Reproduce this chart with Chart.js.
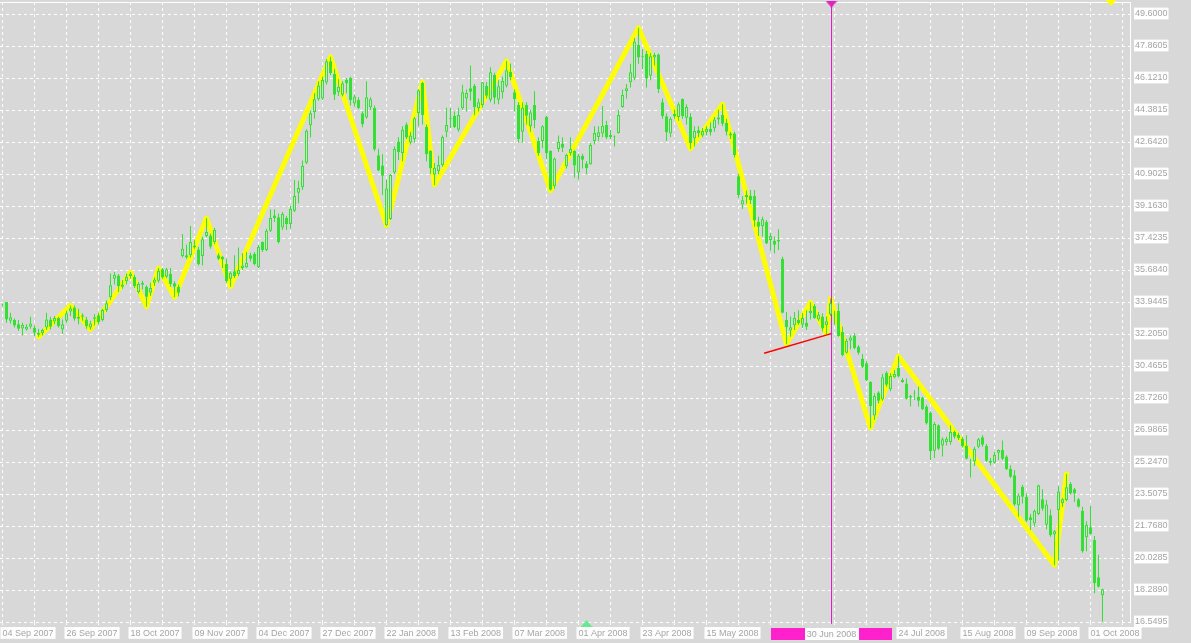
<!DOCTYPE html>
<html>
<head>
<meta charset="utf-8">
<title>Daily candles</title>
<script src="https://cdn.jsdelivr.net/npm/chart.js@4.4.1/dist/chart.umd.min.js"></script>
<style>
    html, body { margin: 0; padding: 0; background: #d8d8d8; }
    canvas { display: block; }
</style>
</head>
<body>
<canvas id="priceChart" width="1191" height="643"></canvas>
<script>
// one value per daily bar, 04 Sep 2007 -> early Oct 2008
const openPrices = [
    33.78, 33.94, 32.93, 32.96, 32.74, 32.51, 32.45, 32.60, 32.53, 32.27,
    32.24, 32.56, 33.00, 32.89, 33.07, 32.45, 32.93, 33.43, 33.65, 33.14,
    33.14, 33.00, 32.56, 33.04, 33.22, 32.96, 33.51, 34.20, 35.21, 35.39,
    34.88, 35.07, 35.36, 35.32, 34.49, 34.99, 34.78, 34.45, 34.99, 35.10,
    35.72, 35.32, 35.46, 34.96, 34.78, 36.44, 36.48, 36.48, 36.91, 36.80,
    36.44, 37.53, 37.56, 37.20, 36.48, 36.40, 36.01, 35.21, 35.61, 35.46,
    35.79, 35.83, 36.48, 36.55, 35.83, 37.20, 36.77, 37.82, 38.65, 38.55,
    38.00, 38.51, 38.18, 38.91, 39.89, 40.18, 41.52, 43.55, 44.27, 44.96,
    45.00, 45.87, 47.03, 46.34, 45.36, 45.21, 46.01, 46.12, 44.74, 44.92,
    44.20, 43.98, 44.53, 44.49, 41.92, 41.36, 38.12, 38.46, 40.99, 42.66,
    42.05, 43.60, 42.62, 42.80, 44.22, 45.85, 43.46, 42.15, 40.88, 41.07,
    41.39, 43.20, 43.90, 44.07, 43.31, 44.47, 45.00, 45.56, 45.70, 44.47,
    44.65, 45.70, 44.94, 46.28, 44.94, 45.34, 45.70, 46.46, 45.34, 44.65,
    43.20, 44.65, 43.50, 44.65, 42.70, 42.70, 44.00, 42.15, 40.23, 42.26,
    42.55, 41.32, 42.04, 42.15, 40.99, 41.90, 41.47, 41.43, 42.70, 42.91,
    43.10, 43.57, 42.91, 42.90, 43.13, 44.54, 45.42, 45.89, 46.14, 47.91,
    47.28, 47.44, 46.25, 47.23, 47.40, 44.80, 44.04, 43.10, 44.18, 44.00,
    44.98, 43.96, 44.00, 42.84, 43.28, 42.99, 43.17, 43.35, 43.39, 43.97,
    44.11, 43.68, 42.99, 43.10, 40.78, 39.25, 39.76, 39.72, 39.70, 38.29,
    38.08, 38.29, 37.32, 37.28, 37.31, 36.30, 32.97, 32.39, 32.68, 32.97,
    32.71, 32.82, 33.33, 33.73, 33.00, 33.15, 32.68, 33.26, 33.28, 33.47,
    32.31, 31.19, 31.84, 32.13, 31.52, 30.86, 30.61, 29.60, 27.78, 29.02,
    28.65, 30.10, 29.20, 29.85, 30.36, 29.70, 29.52, 28.76, 28.96, 28.80,
    28.76, 28.26, 27.93, 25.86, 27.24, 26.15, 26.33, 26.33, 26.88, 26.73,
    26.51, 26.15, 25.30, 25.28, 26.08, 26.59, 26.12, 25.32, 25.21, 25.75,
    25.90, 25.54, 24.88, 24.52, 22.89, 23.90, 23.36, 22.24, 21.91, 22.42,
    23.22, 21.84, 22.35, 21.30, 22.64, 23.00, 23.18, 24.05, 23.76, 23.22,
    22.60, 21.15, 21.70, 21.01, 18.98, 18.00
];
const highPrices = [
    33.86, 33.94, 33.36, 33.05, 32.96, 32.82, 32.74, 33.14, 32.67, 32.49,
    32.49, 33.36, 33.14, 33.18, 33.14, 33.00, 33.47, 33.76, 33.76, 33.58,
    33.33, 33.14, 32.93, 33.29, 33.36, 33.58, 34.02, 35.50, 35.57, 35.46,
    35.14, 35.50, 35.57, 35.43, 35.03, 35.10, 34.85, 34.99, 35.28, 35.79,
    35.79, 35.79, 35.79, 35.07, 34.88, 37.64, 37.05, 38.07, 37.31, 36.95,
    37.49, 38.51, 37.67, 37.97, 36.59, 36.44, 36.30, 35.61, 36.48, 36.91,
    36.59, 36.66, 36.62, 36.66, 37.05, 37.24, 37.93, 38.98, 38.98, 38.76,
    38.84, 38.62, 39.16, 40.58, 40.54, 41.63, 43.33, 44.34, 45.29, 45.94,
    46.19, 47.14, 47.28, 46.63, 46.05, 45.94, 46.12, 46.19, 45.22, 45.07,
    44.31, 45.94, 45.07, 44.63, 42.28, 41.97, 40.59, 40.90, 42.40, 42.90,
    43.50, 43.70, 43.20, 44.00, 45.50, 45.90, 43.60, 42.20, 41.50, 41.90,
    43.00, 44.50, 44.50, 44.30, 44.50, 45.75, 45.50, 46.80, 45.80, 45.00,
    45.90, 45.90, 46.70, 46.40, 46.00, 46.20, 47.05, 46.90, 45.50, 44.80,
    44.80, 44.80, 44.40, 45.40, 42.90, 43.55, 44.05, 42.20, 41.80, 43.00,
    42.90, 42.00, 42.90, 42.20, 42.00, 42.00, 41.60, 42.60, 43.50, 43.50,
    44.60, 43.80, 43.30, 43.00, 44.40, 45.50, 45.80, 46.90, 48.30, 48.85,
    47.70, 47.60, 47.50, 47.50, 47.45, 45.00, 44.20, 44.00, 44.40, 44.80,
    45.00, 44.70, 44.20, 43.50, 43.50, 43.40, 43.50, 43.70, 44.00, 44.40,
    44.70, 43.90, 43.20, 43.20, 40.90, 39.70, 40.00, 40.03, 40.03, 38.58,
    38.58, 38.40, 37.71, 37.50, 37.90, 36.40, 33.40, 33.15, 33.40, 33.50,
    33.33, 33.50, 33.93, 33.84, 33.40, 33.33, 33.15, 34.13, 33.47, 33.87,
    32.60, 31.95, 32.13, 32.24, 31.59, 31.12, 30.72, 29.63, 28.98, 29.09,
    30.03, 30.18, 30.07, 30.25, 31.00, 29.81, 29.78, 28.90, 29.16, 29.34,
    28.80, 28.36, 28.00, 27.42, 27.28, 26.59, 26.62, 27.24, 26.95, 26.84,
    26.62, 26.70, 25.43, 26.08, 26.55, 26.70, 26.22, 25.46, 25.79, 25.93,
    26.41, 25.61, 25.06, 24.81, 23.54, 24.01, 23.54, 22.42, 22.67, 24.01,
    23.76, 23.18, 22.67, 21.55, 23.94, 23.29, 24.59, 24.16, 23.83, 23.29,
    22.82, 22.02, 22.86, 21.23, 20.21, 18.36
];
const lowPrices = [
    33.72, 32.82, 32.78, 32.56, 32.38, 32.13, 32.38, 32.49, 32.09, 32.05,
    32.13, 32.42, 32.45, 32.74, 32.56, 32.20, 32.82, 33.18, 32.93, 32.74,
    32.93, 32.49, 32.45, 32.67, 32.74, 32.89, 33.40, 34.05, 34.89, 34.49,
    34.67, 34.89, 35.21, 34.70, 34.41, 34.63, 33.69, 34.27, 34.81, 34.99,
    35.21, 35.24, 34.78, 34.20, 34.25, 36.37, 36.30, 36.37, 36.84, 35.93,
    35.93, 37.46, 36.84, 37.09, 36.23, 35.79, 34.99, 34.78, 35.25, 35.36,
    35.68, 35.79, 36.15, 35.93, 35.79, 36.66, 36.70, 37.75, 38.29, 37.13,
    37.86, 37.86, 37.93, 38.84, 39.31, 40.03, 41.45, 42.89, 43.91, 44.89,
    44.92, 45.76, 46.27, 44.92, 45.14, 45.11, 45.29, 44.63, 44.56, 44.42,
    43.44, 43.91, 44.38, 42.14, 41.05, 39.76, 38.09, 38.40, 40.90, 41.66,
    41.60, 42.80, 42.50, 42.60, 43.50, 43.60, 41.60, 40.90, 40.30, 40.90,
    41.30, 42.90, 43.40, 43.40, 43.20, 44.40, 44.30, 44.90, 44.10, 44.30,
    44.50, 45.00, 44.80, 44.70, 44.70, 45.00, 45.60, 46.00, 44.30, 42.60,
    42.60, 43.60, 43.20, 43.40, 41.90, 42.30, 41.70, 40.00, 40.10, 42.10,
    42.10, 41.20, 41.90, 40.70, 40.60, 41.20, 40.90, 41.40, 42.50, 42.70,
    42.90, 42.80, 42.80, 42.40, 43.10, 44.50, 45.00, 45.60, 46.00, 46.90,
    46.60, 45.60, 46.00, 46.80, 45.30, 43.90, 42.70, 42.90, 43.90, 43.80,
    43.90, 43.60, 42.28, 42.40, 42.90, 42.90, 43.00, 43.00, 43.20, 43.60,
    43.50, 43.00, 42.80, 41.80, 39.60, 39.00, 39.30, 39.27, 38.04, 37.53,
    37.50, 37.10, 36.73, 36.59, 36.77, 33.33, 31.65, 32.06, 32.42, 32.71,
    32.53, 32.42, 33.00, 33.04, 32.93, 32.35, 32.20, 33.18, 32.71, 32.06,
    31.00, 31.15, 31.37, 31.37, 31.08, 30.36, 29.63, 27.10, 27.53, 28.44,
    28.58, 29.34, 29.09, 29.78, 29.85, 29.55, 28.65, 28.26, 28.62, 28.26,
    28.07, 27.28, 25.35, 25.46, 25.90, 25.54, 26.15, 26.19, 26.51, 26.44,
    26.04, 25.39, 24.41, 25.03, 26.00, 26.08, 25.25, 25.06, 25.17, 25.35,
    25.35, 24.81, 24.38, 22.86, 22.27, 22.99, 21.98, 21.55, 21.73, 22.35,
    22.60, 21.59, 21.19, 19.63, 19.88, 22.82, 23.11, 23.47, 23.07, 22.78,
    20.32, 20.39, 21.30, 18.11, 18.43, 16.58
];
const closePrices = [
    33.80, 33.00, 33.11, 32.67, 32.49, 32.69, 32.60, 32.78, 32.27, 32.16,
    32.42, 33.00, 32.60, 33.07, 32.63, 32.74, 33.33, 33.61, 33.04, 33.04,
    33.22, 32.63, 32.78, 33.11, 32.85, 33.51, 33.87, 34.85, 35.43, 34.81,
    34.78, 35.32, 35.50, 34.81, 34.92, 34.88, 34.23, 34.70, 35.17, 35.64,
    35.28, 35.72, 34.92, 34.78, 34.45, 36.84, 36.37, 37.20, 37.02, 36.00,
    37.35, 37.75, 36.95, 37.86, 36.30, 36.26, 35.07, 35.54, 35.36, 35.68,
    35.93, 36.08, 36.30, 36.01, 36.95, 36.77, 37.82, 38.51, 38.51, 37.20,
    38.73, 38.18, 39.02, 39.71, 40.14, 41.34, 43.26, 44.20, 44.96, 45.72,
    46.01, 47.03, 46.38, 45.21, 45.65, 45.83, 45.83, 44.92, 45.11, 44.49,
    43.62, 45.07, 44.96, 42.24, 41.09, 40.81, 40.12, 40.85, 42.26, 42.08,
    43.31, 42.88, 42.99, 43.93, 45.45, 44.11, 41.97, 41.21, 41.24, 41.39,
    42.91, 43.56, 43.95, 43.46, 44.11, 45.34, 45.30, 45.38, 44.55, 44.80,
    45.89, 45.16, 46.43, 45.05, 45.67, 45.96, 46.54, 46.17, 44.98, 42.80,
    44.50, 44.07, 44.25, 43.82, 42.04, 43.50, 42.04, 40.05, 41.75, 42.66,
    42.33, 41.94, 42.26, 41.36, 41.90, 41.68, 41.21, 42.48, 43.13, 43.17,
    43.53, 42.88, 43.02, 42.94, 44.11, 45.20, 45.56, 46.43, 48.10, 47.23,
    47.32, 46.10, 47.30, 47.37, 45.52, 44.04, 43.17, 43.90, 44.04, 44.69,
    44.04, 44.55, 42.59, 43.24, 43.13, 43.24, 43.35, 43.17, 43.86, 43.86,
    43.64, 43.20, 43.10, 41.94, 39.76, 39.47, 39.65, 39.47, 38.37, 38.04,
    38.44, 37.13, 37.53, 37.06, 37.24, 33.36, 32.57, 32.57, 33.08, 32.79,
    33.08, 32.60, 33.47, 33.08, 33.26, 32.50, 32.90, 33.87, 33.30, 32.10,
    31.05, 31.84, 32.02, 31.44, 31.19, 30.43, 29.70, 28.29, 28.83, 28.58,
    29.85, 29.45, 29.92, 30.03, 29.89, 29.58, 28.69, 28.83, 28.98, 28.58,
    28.11, 27.35, 25.83, 27.31, 25.97, 26.48, 26.51, 26.88, 26.62, 26.55,
    26.12, 25.43, 25.32, 25.97, 26.48, 26.19, 25.32, 25.21, 25.64, 25.90,
    25.43, 24.85, 24.45, 22.93, 23.43, 23.36, 22.06, 22.09, 22.60, 23.98,
    22.71, 22.93, 21.26, 21.48, 23.65, 23.22, 23.87, 23.54, 23.54, 22.82,
    20.39, 21.84, 21.33, 18.65, 18.47, 18.33
];

// zigzag swing points (bar index, price)
const zigzagBars = [9, 17, 22, 32, 36, 39, 43, 51, 57, 82, 96, 105, 108, 126, 137, 159, 172, 180, 196, 202, 206, 207, 217, 224, 263, 266];
const zigzagPrices = [32.05, 33.76, 32.45, 35.57, 33.69, 35.79, 34.20, 38.51, 34.78, 47.28, 38.09, 45.90, 40.30, 47.05, 40.00, 48.85, 42.28, 44.70, 31.65, 33.93, 32.20, 34.13, 27.10, 31.00, 19.63, 24.59];

// red trend line
const trendBars = [190.4, 207.4];
const trendPrices = [31.16, 32.24];

// vertical line object
const vlineBar = 207.25;
const vlineDate = '30 Jun 2008';

// arrow markers
const arrowBars = [207.25, 277.1, 146.0];
const arrowPrices = [50.14, 50.22, 16.47];
const arrowColors = ['#e020c0', '#ffff00', '#66e890'];
const arrowDirs = ['down', 'down', 'up'];

// axis labels
const priceTicks = [16.5495, 18.2890, 20.0285, 21.7680, 23.5075, 25.2470, 26.9865, 28.7260, 30.4655, 32.2050,
    33.9445, 35.6840, 37.4235, 39.1630, 40.9025, 42.6420, 44.3815, 46.1210, 47.8605, 49.6000];
const dateLabelBars = [0, 16, 32, 48, 64, 80, 96, 112, 128, 144, 160, 176, 192, 208, 224, 240, 256, 272];
const dateLabels = ['04 Sep 2007', '26 Sep 2007', '18 Oct 2007', '09 Nov 2007', '04 Dec 2007', '27 Dec 2007',
    '22 Jan 2008', '13 Feb 2008', '07 Mar 2008', '01 Apr 2008', '23 Apr 2008', '15 May 2008',
    '', '', '24 Jul 2008', '15 Aug 2008', '09 Sep 2008', '01 Oct 2008'];

const bg = '#d8d8d8';
const candleGreen = '#33e033';
const labelGray = '#a4a4a4';
const yMin = 16.5495, yMax = 50.2525;

Chart.defaults.font.family = '"Liberation Sans", Arial, sans-serif';
Chart.defaults.font.size = 9;

function arrowImage(color, dir) {
    const c = document.createElement('canvas');
    c.width = 12; c.height = 7;
    const g = c.getContext('2d');
    g.fillStyle = color;
    g.beginPath();
    if (dir === 'down') {
        g.moveTo(0, 0); g.lineTo(12, 0); g.lineTo(6, 7);
    } else {
        g.moveTo(6, 0); g.lineTo(12, 7); g.lineTo(0, 7);
    }
    g.closePath();
    g.fill();
    return c;
}

function dateFor(value) {
    const k = dateLabelBars.indexOf(value);
    return k < 0 ? '' : dateLabels[k];
}

const bars = closePrices.map((c, i) => i);
const xTicks = [];
for (let v = 0; v <= 280; v += 8) xTicks.push(v);

const frame = {
    id: 'frame',
    beforeDatasetsDraw(chart) {
        const a = chart.chartArea, ctx = chart.ctx;
        ctx.save();
        ctx.strokeStyle = '#ffffff';
        ctx.lineWidth = 1;
        ctx.beginPath();
        ctx.moveTo(a.left, a.top + 0.5);
        ctx.lineTo(a.right, a.top + 0.5);
        ctx.stroke();
        ctx.restore();
    },
    afterDraw(chart) {
        // date tag of the vertical line on the time axis
        const ctx = chart.ctx;
        const x = chart.scales.x.getPixelForValue(vlineBar);
        const top = chart.chartArea.bottom + 6;
        ctx.save();
        ctx.fillStyle = '#ff22cc';
        ctx.fillRect(Math.round(x) - 61, top, 121, 12);
        ctx.font = Chart.defaults.font.size + 'px ' + Chart.defaults.font.family;
        const w = ctx.measureText(vlineDate).width + 4;
        ctx.fillStyle = '#ffffff';
        ctx.fillRect(Math.round(x - w / 2), top, Math.round(w), 12);
        ctx.fillStyle = labelGray;
        ctx.textAlign = 'center';
        ctx.textBaseline = 'middle';
        ctx.fillText(vlineDate, x, top + 6.5);
        ctx.restore();
    }
};

const ctx = document.getElementById('priceChart').getContext('2d');
new Chart(ctx, {
    type: 'bar',
    data: {
        datasets: [
            {
                label: 'body',
                data: bars.map(i => ({ x: i, y: [openPrices[i], closePrices[i]] })),
                backgroundColor: bars.map(i => closePrices[i] > openPrices[i] ? bg : candleGreen),
                borderColor: candleGreen,
                borderWidth: 1,
                borderSkipped: false,
                barThickness: 3,
                grouped: false,
                inflateAmount: 0,
                order: 1
            },
            {
                label: 'wick',
                data: bars.map(i => ({ x: i, y: [lowPrices[i], highPrices[i]] })),
                backgroundColor: candleGreen,
                borderWidth: 0,
                barThickness: 1,
                grouped: false,
                inflateAmount: 0,
                order: 2
            },
            {
                type: 'line',
                label: 'vline',
                data: [{ x: vlineBar, y: yMin - 0.1 }, { x: vlineBar, y: yMax }],
                borderColor: '#e020c0',
                borderWidth: 1,
                pointRadius: 0,
                clip: false,
                order: 3
            },
            {
                type: 'line',
                label: 'trend',
                data: trendBars.map((b, k) => ({ x: b, y: trendPrices[k] })),
                borderColor: '#ff0000',
                borderWidth: 1.5,
                pointRadius: 0,
                order: 4
            },
            {
                type: 'line',
                label: 'zigzag',
                data: zigzagBars.map((b, k) => ({ x: b, y: zigzagPrices[k] })),
                borderColor: '#ffff00',
                borderWidth: 5,
                borderJoinStyle: 'round',
                borderCapStyle: 'round',
                pointRadius: 0,
                order: 5
            },
            {
                type: 'line',
                label: 'arrows',
                data: arrowBars.map((b, k) => ({ x: b, y: arrowPrices[k] })),
                showLine: false,
                pointStyle: arrowColors.map((c, k) => arrowImage(c, arrowDirs[k])),
                pointRadius: 6,
                clip: false,
                order: 0
            }
        ]
    },
    options: {
        responsive: false,
        animation: false,
        events: [],
        layout: { autoPadding: false, padding: { top: 2, left: 0, right: 0, bottom: 0 } },
        plugins: {
            legend: { display: false },
            tooltip: { enabled: false }
        },
        scales: {
            x: {
                type: 'linear',
                min: -0.625,
                max: 281.875,
                offset: false,
                afterBuildTicks: s => { s.ticks = xTicks.map(v => ({ value: v })); },
                afterFit: s => { s.height = 21; s.paddingLeft = 0; s.paddingRight = 0; },
                grid: {
                    offset: false,
                    color: '#ffffff',
                    lineWidth: 1,
                    drawTicks: true,
                    tickLength: 3,
                    tickColor: '#ffffff'
                },
                border: { display: false, dash: [3, 3] },
                ticks: {
                    autoSkip: false,
                    maxRotation: 0,
                    minRotation: 0,
                    align: 'start',
                    padding: 3,
                    color: labelGray,
                    callback: v => dateFor(v),
                    showLabelBackdrop: c => dateFor(c.tick.value) !== '',
                    backdropColor: '#ffffff',
                    backdropPadding: { top: 1, bottom: 0, left: 2, right: 2 }
                }
            },
            y: {
                type: 'linear',
                position: 'right',
                min: yMin,
                max: yMax,
                afterBuildTicks: s => { s.ticks = priceTicks.map(v => ({ value: v })); },
                afterFit: s => { s.width = 61; s.paddingTop = 0; s.paddingBottom = 0; },
                grid: {
                    color: '#ffffff',
                    lineWidth: 1,
                    drawTicks: false
                },
                border: { display: true, color: '#ffffff', width: 1, dash: [3, 3] },
                ticks: {
                    autoSkip: false,
                    padding: 5,
                    color: labelGray,
                    callback: v => v.toFixed(4),
                    showLabelBackdrop: true,
                    backdropColor: '#ffffff',
                    backdropPadding: { top: 1, bottom: 0, left: 1, right: 1 }
                }
            }
        }
    },
    plugins: [frame]
});
</script>
</body>
</html>
